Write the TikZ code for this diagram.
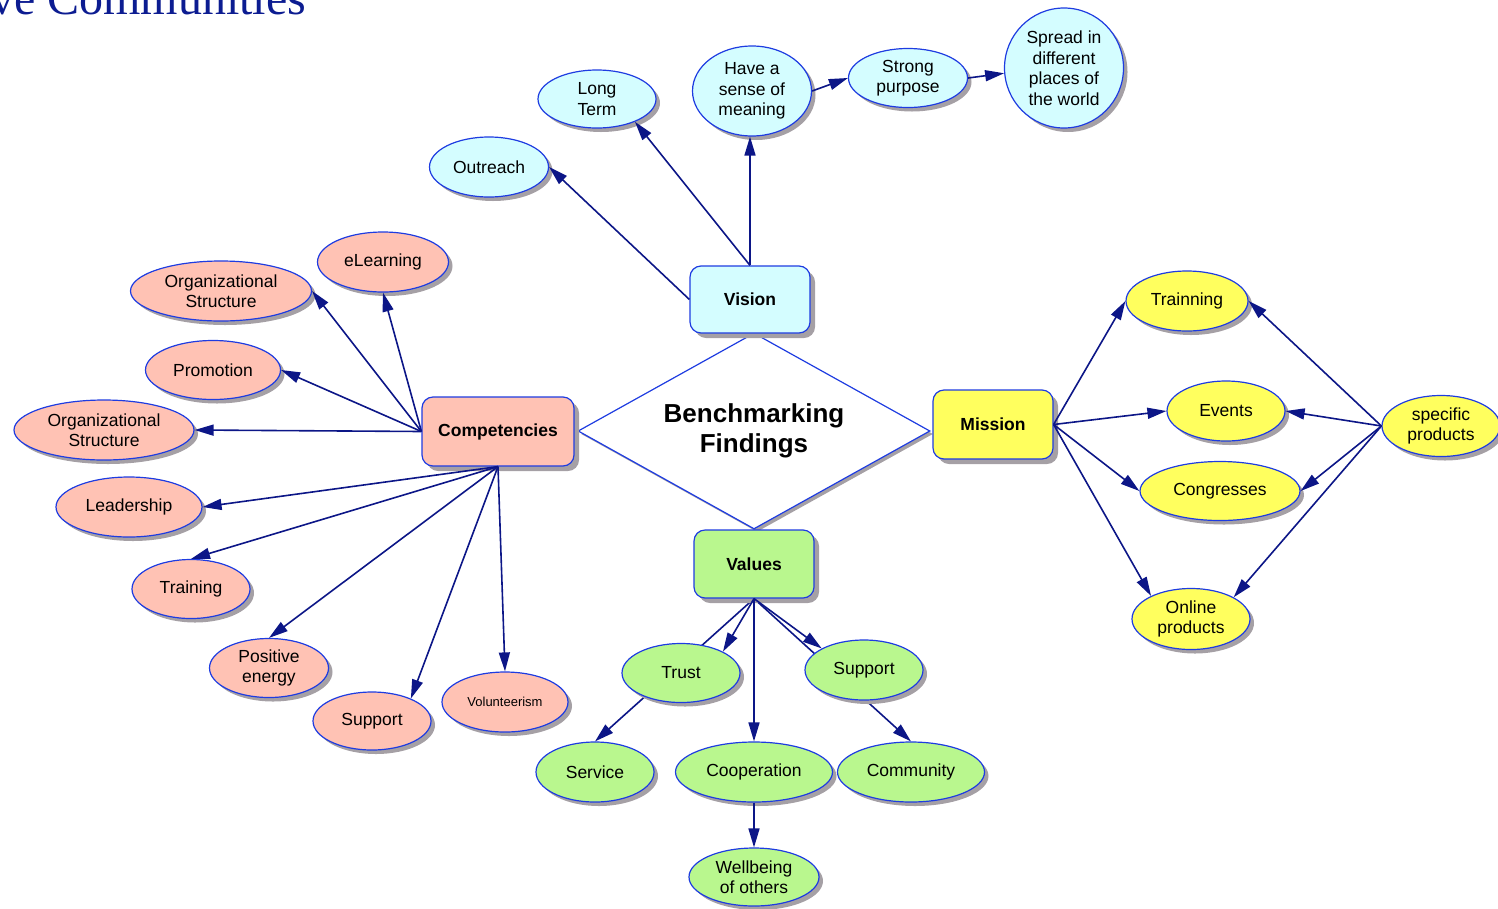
\documentclass[tikz,border=0pt]{standalone}
\usepackage{fontspec}
\setmainfont{Liberation Sans}
\newfontfamily\titlefont{Liberation Serif}
\usetikzlibrary{shapes.geometric,shadows,arrows.meta}
\definecolor{edgec}{RGB}{12,22,135}
\definecolor{bordc}{RGB}{30,60,225}
\definecolor{shadc}{RGB}{165,160,165}
\definecolor{cyanf}{RGB}{212,253,255}
\definecolor{pinkf}{RGB}{255,194,180}
\definecolor{yelf}{RGB}{255,255,94}
\definecolor{grnf}{RGB}{185,247,142}
\definecolor{titlec}{RGB}{12,28,145}
\pgfdeclarelayer{bg}
\pgfsetlayers{bg,main}
\begin{document}
\begin{tikzpicture}[x=1pt,y=-1pt,
  concept/.style={ellipse, draw=bordc, line width=1.2pt, inner sep=0pt, align=center, text=black,
    font=\fontsize{17.5}{20.5}\selectfont,
    drop shadow={shadow xshift=4pt, shadow yshift=-4pt, fill=shadc, opacity=1, draw=none}},
  hub/.style={rectangle, rounded corners=11pt, draw=bordc, line width=1.2pt, inner sep=0pt, align=center, text=black,
    font=\fontsize{17.5}{20.5}\selectfont\bfseries,
    drop shadow={shadow xshift=5pt, shadow yshift=-5pt, fill=shadc, opacity=1, draw=none}},
  link/.style={draw=edgec, line width=1.6pt, -{Triangle[length=19pt,width=11pt]}},
]
\useasboundingbox (0,0) rectangle (1498,908);

% title
\node[anchor=base west, inner sep=0pt, font=\titlefont\fontsize{48}{50}\selectfont, text=titlec] (title) at (-10,14) {ve Communities};

% centre diamond
\node[diamond, aspect=1.8, inner sep=0pt, minimum width=352pt, minimum height=196pt, draw=bordc, line width=1.2pt, fill=white, align=center,
  font=\fontsize{26}{30}\selectfont\bfseries,
  drop shadow={shadow xshift=3pt, shadow yshift=-3pt, fill=shadc, opacity=1, draw=none}] (bf) at (754,431) {Benchmarking\\Findings};

% hubs
\node[hub, fill=cyanf, minimum width=120pt, minimum height=67pt] (vision) at (750,299.5) {Vision};
\node[hub, fill=pinkf, minimum width=152pt, minimum height=69pt] (comp) at (498,431.5) {Competencies};
\node[hub, fill=yelf, minimum width=120pt, minimum height=69pt] (mission) at (993,424.5) {Mission};
\node[hub, fill=grnf, minimum width=120pt, minimum height=68pt] (values) at (754,564) {Values};

% vision concepts
\node[concept, fill=cyanf, minimum width=118pt, minimum height=58pt] (longterm) at (597,99) {Long\\Term};
\node[concept, fill=cyanf, minimum width=119pt, minimum height=60pt] (outreach) at (489,167) {Outreach};
\node[concept, fill=cyanf, minimum width=119pt, minimum height=90pt] (meaning) at (752,91) {Have a\\sense of\\meaning};
\node[concept, fill=cyanf, minimum width=119pt, minimum height=59pt] (strong) at (908,78) {Strong\\purpose};
\node[concept, fill=cyanf, minimum width=119pt, minimum height=120pt] (spread) at (1064,68) {Spread in\\different\\places of\\the world};

% competencies concepts
\node[concept, fill=pinkf, minimum width=181pt, minimum height=60pt] (orgA) at (221,291) {Organizational\\Structure};
\node[concept, fill=pinkf, minimum width=131pt, minimum height=60pt] (elearn) at (383,262) {eLearning};
\node[concept, fill=pinkf, minimum width=135pt, minimum height=59pt] (promo) at (213,370) {Promotion};
\node[concept, fill=pinkf, minimum width=180pt, minimum height=60pt] (orgB) at (104,430) {Organizational\\Structure};
\node[concept, fill=pinkf, minimum width=146pt, minimum height=60pt] (lead) at (129,507) {Leadership};
\node[concept, fill=pinkf, minimum width=118pt, minimum height=59pt] (train) at (191,589) {Training};
\node[concept, fill=pinkf, minimum width=119pt, minimum height=59pt] (pos) at (269,668) {Positive\\energy};
\node[concept, fill=pinkf, minimum width=118pt, minimum height=58pt] (supp) at (372,721) {Support};
\node[concept, fill=pinkf, minimum width=126pt, minimum height=60pt, font=\fontsize{13}{15}\selectfont] (vol) at (505,702) {Volunteerism};

% mission concepts
\node[concept, fill=yelf, minimum width=122pt, minimum height=60pt] (trainning) at (1187,301) {Trainning};
\node[concept, fill=yelf, minimum width=118pt, minimum height=60pt] (events) at (1226,411) {Events};
\node[concept, fill=yelf, minimum width=160pt, minimum height=59pt] (cong) at (1220,491) {Congresses};
\node[concept, fill=yelf, minimum width=118pt, minimum height=61pt] (online) at (1191,619) {Online\\products};
\node[concept, fill=yelf, minimum width=118pt, minimum height=61pt] (spec) at (1441,426) {specific\\products};

% values concepts
\node[concept, fill=grnf, minimum width=118pt, minimum height=59pt] (trust) at (681,673) {Trust};
\node[concept, fill=grnf, minimum width=118pt, minimum height=60pt] (sup) at (864,670) {Support};
\node[concept, fill=grnf, minimum width=118pt, minimum height=60pt] (service) at (595,772) {Service};
\node[concept, fill=grnf, minimum width=157pt, minimum height=60pt] (coop) at (754,772) {Cooperation};
\node[concept, fill=grnf, minimum width=147pt, minimum height=60pt] (comm) at (911,772) {Community};
\node[concept, fill=grnf, minimum width=130pt, minimum height=58pt] (well) at (754,877) {Wellbeing\\of others};

% connectors hidden behind Trust / Support
\begin{pgfonlayer}{bg}
\draw[link] (values.south) -- (service.north);
\draw[link] (values.south) -- (comm.north);
\end{pgfonlayer}

% vision links
\draw[link] (vision.west) -- (outreach.east);
\draw[link] (vision.north) -- (longterm.-31);
\draw[link] (vision.north) -- (vision.north |- meaning.south);
\draw[link] (meaning.east) -- (strong.west);
\draw[link] (strong.east) -- (spread.185);

% competencies links
\draw[link] (comp.west) -- (orgA.east);
\draw[link] (comp.west) -- (elearn.south);
\draw[link] (comp.west) -- (promo.east);
\draw[link] (comp.west) -- (orgB.east);
\draw[link] (comp.south) -- (lead.east);
\draw[link] (comp.south) -- (train.north);
\draw[link] (comp.south) -- (pos.north);
\draw[link] (comp.south) -- (supp.30);
\draw[link] (comp.south) -- (vol.north);

% mission links
\draw[link] (mission.east) -- (trainning.west);
\draw[link] (mission.east) -- (events.west);
\draw[link] (mission.east) -- (cong.west);
\draw[link] (mission.east) -- (online.150);
\draw[link] (spec.west) -- (trainning.east);
\draw[link] (spec.west) -- (events.east);
\draw[link] (spec.west) -- (cong.east);
\draw[link] (spec.west) -- (online.27);

% values links
\draw[link] (values.south) -- (trust.27);
\draw[link] (values.south) -- (sup.153);
\draw[link] (values.south) -- (coop.north);
\draw[link] (coop.south) -- (well.north);
\end{tikzpicture}
\end{document}
